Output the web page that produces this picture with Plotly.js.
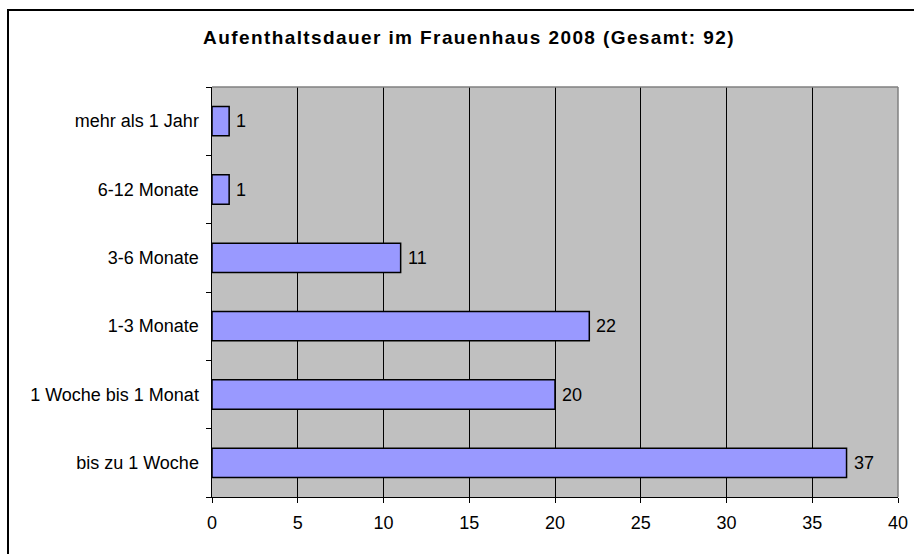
<!DOCTYPE html>
<html>
<head>
<meta charset="utf-8">
<script src="https://cdn.plot.ly/plotly-3.0.1.min.js"></script>
<style>
html,body{margin:0;padding:0;width:914px;height:554px;overflow:hidden;background:#fff;}
#chart{position:absolute;left:0;top:0;width:914px;height:554px;}
#frame{position:absolute;left:7px;top:9px;width:1200px;height:1200px;border:2px solid #000;pointer-events:none;}
#chart .gtitle{letter-spacing:1.4px;}
</style>
</head>
<body>
<div id="chart"></div>
<div id="frame"></div>
<script>
var categories = ["bis zu 1 Woche", "1 Woche bis 1 Monat", "1-3 Monate", "3-6 Monate", "6-12 Monate", "mehr als 1 Jahr"];
var values = [37, 20, 22, 11, 1, 1];
var xTicks = [0, 5, 10, 15, 20, 25, 30, 35, 40];
var titleText = "Aufenthaltsdauer im Frauenhaus 2008 (Gesamt: 92)";

var FONT = "Liberation Sans, Arial, sans-serif";

var trace = {
  type: "bar",
  orientation: "h",
  x: values,
  y: categories,
  marker: {color: "#9999FF", line: {color: "#000000", width: 1.5}},
  width: 0.43,
  hoverinfo: "none"
};

var annotations = values.map(function (v, i) {
  return {
    x: v, y: categories[i], xref: "x", yref: "y",
    text: String(v), showarrow: false,
    xanchor: "left", yanchor: "middle", xshift: 5,
    font: {family: FONT, size: 18, color: "#000"}
  };
});

var layout = {
  width: 914, height: 554,
  margin: {l: 212, r: 16, t: 87, b: 57, pad: 0},
  paper_bgcolor: "#ffffff",
  plot_bgcolor: "#C0C0C0",
  showlegend: false,
  title: {
    text: "<b>" + titleText + "</b>",
    font: {family: FONT, size: 19, color: "#000"},
    x: 469 / 914, xanchor: "center", xref: "container",
    y: 1 - 37 / 554, yanchor: "middle", yref: "container"
  },
  xaxis: {
    range: [0, 40],
    tickvals: xTicks,
    ticktext: xTicks.map(String),
    showgrid: true, gridcolor: "#000000", gridwidth: 1,
    zeroline: false,
    showline: true, linecolor: "#000000", linewidth: 1,
    ticks: "outside", ticklen: 5, tickcolor: "#000", tickwidth: 1,
    tickfont: {family: FONT, size: 18, color: "#000"},
    ticklabelstandoff: 4,
    fixedrange: true
  },
  yaxis: {
    type: "category",
    categoryorder: "array", categoryarray: categories,
    showgrid: false, zeroline: false,
    showline: true, linecolor: "#000000", linewidth: 1.5,
    ticks: "outside", tickson: "boundaries", ticklen: 5, tickcolor: "#000", tickwidth: 1,
    tickfont: {family: FONT, size: 18, color: "#000"},
    ticklabelstandoff: 8,
    fixedrange: true
  },
  shapes: [
    {type: "line", xref: "paper", yref: "paper", x0: 0, x1: 1, y0: 1, y1: 1, line: {color: "#808080", width: 1.5}},
    {type: "line", xref: "paper", yref: "paper", x0: 1, x1: 1, y0: 0, y1: 1, line: {color: "#808080", width: 1.5}}
  ],
  annotations: annotations,
  bargap: 0.57
};

Plotly.newPlot("chart", [trace], layout, {displayModeBar: false, staticPlot: true});
</script>
</body>
</html>
